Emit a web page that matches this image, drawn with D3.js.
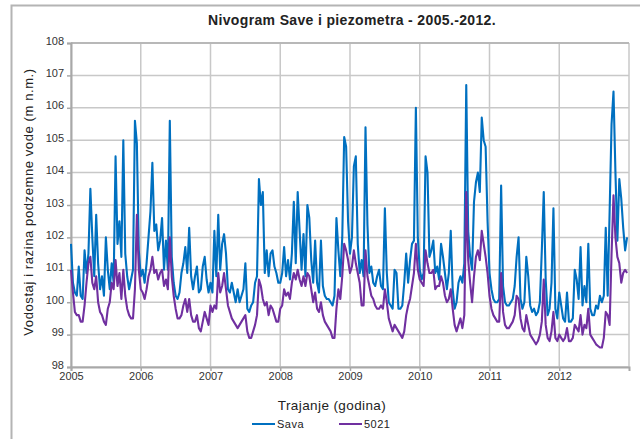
<!DOCTYPE html>
<html>
<head>
<meta charset="utf-8">
<script src="https://cdn.jsdelivr.net/npm/d3@7"></script>
<style>
  html, body { margin: 0; padding: 0; background: #fff; }
  svg { display: block; font-family: "Liberation Sans", Arial, sans-serif; }
</style>
</head>
<body>
<svg id="chart" width="640" height="439"></svg>
<script>
// ---- data (~10-day samples, 36 per year) ----
const years = [2005, 2006, 2007, 2008, 2009, 2010, 2011, 2012];
const samplesPerYear = 36;
const yTicks = [98, 99, 100, 101, 102, 103, 104, 105, 106, 107, 108];
const seriesNames = ["Sava", "5021"];

const sava = [
  // 2005
  101.8,100.6,100.3,100.2,101.1,100.2,100.1,101.6,100.9,101.5,103.5,102.0,100.8,102.7,101.2,100.4,100.8,100.2,
  102.0,101.0,100.4,101.2,100.6,104.5,101.8,102.5,101.4,105.0,101.5,100.8,100.4,100.7,101.0,105.6,104.9,101.6,
  // 2006
  100.8,101.0,100.6,101.2,102.0,102.8,104.3,102.2,102.4,101.6,101.9,102.6,101.0,101.9,101.0,105.6,101.4,100.6,
  100.2,100.1,100.3,100.9,101.2,101.7,100.9,102.3,100.8,100.4,100.8,101.1,100.3,100.4,101.1,101.4,100.7,100.3,
  // 2007
  100.6,100.3,102.2,100.8,102.7,101.0,101.8,102.1,101.5,100.4,100.3,100.6,100.3,100.0,100.4,100.0,100.2,100.4,
  101.2,99.8,99.7,99.9,100.0,100.6,100.8,103.8,103.0,103.4,100.9,101.6,100.8,101.5,101.6,101.1,100.9,100.6,
  // 2008
  100.6,100.9,101.7,100.8,101.3,100.7,101.5,103.1,101.2,103.4,102.2,101.0,102.1,100.8,103.0,102.6,101.3,100.6,
  101.9,100.6,100.3,101.9,100.5,100.2,100.1,100.1,100.0,99.9,100.2,102.6,101.6,100.8,102.0,105.1,104.8,102.5,
  // 2009
  101.5,102.0,104.2,104.5,101.8,100.9,101.3,100.8,105.4,102.4,100.9,101.1,100.6,100.5,100.8,101.0,100.5,100.4,
  102.9,100.9,100.0,99.9,99.8,101.0,100.9,99.8,99.8,99.9,100.6,101.5,100.6,101.3,101.8,101.9,106.0,102.0,
  // 2010
  101.0,100.7,100.9,104.5,104.0,101.4,101.6,101.9,100.9,101.1,100.7,101.8,101.4,100.9,100.4,100.9,102.2,100.4,
  99.8,100.0,100.6,100.8,100.6,101.2,106.7,102.2,101.4,101.0,103.1,103.7,104.0,103.4,105.7,105.0,104.8,102.5,
  // 2011
  100.9,100.4,100.1,100.0,100.0,100.1,103.6,100.5,100.0,99.9,99.9,100.0,100.1,100.5,101.4,102.0,100.1,99.8,
  100.0,101.4,100.8,99.9,99.7,99.8,99.6,99.7,100.0,101.6,103.4,100.7,99.6,99.8,100.6,102.9,99.8,99.5,
  // 2012
  100.3,99.9,99.5,99.4,100.3,99.4,99.4,99.5,101.0,100.7,100.1,101.7,99.9,100.5,100.0,101.8,99.8,99.6,
  99.6,99.9,99.8,100.2,100.0,100.2,102.3,100.2,102.8,105.5,106.5,104.0,101.9,103.8,103.2,102.3,101.6,102.0
];

const piezo5021 = [
  // 2005
  101.0,100.3,99.7,99.6,99.6,99.4,99.4,99.9,100.6,101.2,101.4,100.6,100.4,100.8,100.0,99.7,99.6,99.4,
  99.3,99.8,100.0,100.6,100.4,101.3,100.5,100.9,100.1,101.0,100.2,99.8,99.6,99.5,99.5,100.4,102.7,101.0,
  // 2006
  100.4,100.3,100.1,100.4,100.8,101.0,101.4,100.9,101.0,100.7,100.9,101.0,100.5,100.7,100.4,102.0,100.8,100.2,
  99.8,99.5,99.5,99.6,99.9,100.1,99.7,100.1,99.6,99.4,99.4,99.6,99.2,99.1,99.4,99.7,99.5,99.3,
  // 2007
  99.9,99.7,99.9,99.8,100.9,100.3,100.5,100.9,100.4,99.9,99.7,99.5,99.4,99.3,99.2,99.3,99.4,99.5,
  99.6,99.1,98.9,98.9,99.1,99.3,99.6,100.7,100.5,100.1,99.9,100.0,99.6,99.9,99.8,99.6,99.4,99.4,
  // 2008
  99.8,99.9,100.4,100.2,100.3,100.1,100.6,100.9,100.7,101.0,100.7,100.5,100.8,100.5,100.9,100.8,100.4,100.0,
  100.3,99.8,99.7,100.0,99.6,99.4,99.3,99.2,99.1,98.9,98.9,99.8,100.4,100.1,100.8,101.8,101.6,101.3,
  // 2009
  100.9,101.1,101.6,101.2,100.9,100.6,99.9,99.9,101.6,100.8,100.5,100.2,100.1,99.9,99.8,99.8,99.9,99.8,
  100.4,100.0,99.5,99.3,99.1,99.3,99.2,99.1,99.0,98.9,99.1,99.6,99.9,100.1,100.5,100.9,101.8,101.0,
  // 2010
  100.7,100.6,100.5,101.6,101.2,100.9,100.9,101.0,100.4,100.5,100.5,100.8,100.6,100.2,100.0,100.1,100.4,99.8,
  99.3,99.1,99.3,99.5,99.2,99.6,103.4,101.3,100.6,100.0,100.8,101.4,101.6,101.3,102.2,101.8,101.4,100.9,
  // 2011
  100.2,99.8,99.6,99.5,99.4,99.4,100.9,99.7,99.3,99.2,99.2,99.3,99.4,99.6,100.2,100.1,99.5,99.2,
  99.1,99.6,99.3,99.0,98.9,98.8,98.7,98.8,99.0,99.4,100.7,99.3,98.9,98.8,99.1,99.7,98.9,98.8,
  // 2012
  99.0,98.9,98.8,98.9,99.2,98.8,98.8,98.9,99.3,99.2,99.1,99.6,99.0,99.3,99.2,99.8,99.0,98.9,
  98.8,98.7,98.65,98.6,98.6,98.9,99.7,99.6,99.3,101.5,103.3,102.0,101.4,101.2,100.6,100.9,101.0,100.9
];

// ---- layout ----
const svg = d3.select("#chart");
const plot = { left: 71, right: 629, top: 43, bottom: 367 };

const x = d3.scaleLinear().domain([2005, 2013]).range([plot.left, plot.right]);
const y = d3.scaleLinear().domain([98, 108]).range([plot.bottom, plot.top]);

// outer frame (left and top visible)
svg.append("rect")
  .attr("x", 11.5).attr("y", 5.5)
  .attr("width", 700).attr("height", 500)
  .attr("fill", "none").attr("stroke", "#b4b4b4").attr("stroke-width", 2);

// title
svg.append("text")
  .attr("x", 352).attr("y", 25)
  .attr("text-anchor", "middle")
  .attr("font-size", 14).attr("font-weight", "bold")
  .attr("letter-spacing", 0.35)
  .attr("fill", "#222")
  .text("Nivogram Save i piezometra - 2005.-2012.");

// grid
const g = svg.append("g");
g.selectAll("line.hgrid").data(yTicks).join("line")
  .attr("class", "hgrid")
  .attr("x1", plot.left).attr("x2", plot.right)
  .attr("y1", d => y(d)).attr("y2", d => y(d))
  .attr("stroke", "#c8c8c8").attr("stroke-width", 1.5);
g.selectAll("line.vgrid").data(years.concat([2013])).join("line")
  .attr("class", "vgrid")
  .attr("x1", d => x(d)).attr("x2", d => x(d))
  .attr("y1", plot.top).attr("y2", plot.bottom)
  .attr("stroke", "#c8c8c8").attr("stroke-width", 1.5);
g.append("line")
  .attr("x1", plot.left).attr("x2", plot.right)
  .attr("y1", plot.top).attr("y2", plot.top)
  .attr("stroke", "#b8b8b8").attr("stroke-width", 2);

// axes
const yAxis = d3.axisLeft(y).tickValues(yTicks).tickSize(4).tickPadding(3).tickFormat(d3.format("d"));
const xAxis = d3.axisBottom(x).tickValues(years).tickSize(4).tickPadding(1).tickFormat(d3.format("d"));

const ya = svg.append("g").attr("transform", `translate(${plot.left},0)`).call(yAxis);
const xa = svg.append("g").attr("transform", `translate(0,${plot.bottom})`).call(xAxis);
[ya, xa].forEach(a => {
  a.select(".domain").attr("stroke", "#a8a8a8").attr("stroke-width", 2);
  a.selectAll(".tick line").attr("stroke", "#a8a8a8").attr("stroke-width", 1.5);
  a.selectAll(".tick text").attr("fill", "#333").attr("font-size", 11)
   .attr("font-family", "'Liberation Sans', Arial, sans-serif");
});
ya.selectAll(".tick text").attr("dy", "0.1em");

// lines
const line = d3.line()
  .x((d, i) => x(years[0] + i / samplesPerYear))
  .y(d => y(d));

svg.append("path").datum(sava)
  .attr("fill", "none").attr("stroke", "#0070c0")
  .attr("stroke-width", 2.1).attr("stroke-linejoin", "round")
  .attr("d", line);
svg.append("path").datum(piezo5021)
  .attr("fill", "none").attr("stroke", "#7030a0")
  .attr("stroke-width", 2.1).attr("stroke-linejoin", "round")
  .attr("d", line);

// axis titles
svg.append("text")
  .attr("transform", `translate(33,${(plot.top + plot.bottom) / 2 - 3}) rotate(-90)`)
  .attr("text-anchor", "middle")
  .attr("font-size", 13).attr("letter-spacing", 0.6).attr("fill", "#222")
  .text("Vodostaj i razina podzemne vode (m n.m.)");

svg.append("text")
  .attr("x", 332).attr("y", 410)
  .attr("text-anchor", "middle")
  .attr("font-size", 13.5).attr("letter-spacing", 0.4).attr("fill", "#222")
  .text("Trajanje (godina)");

// legend
const legend = svg.append("g");
const legendItems = [
  { name: seriesNames[0], color: "#0070c0", x: 252 },
  { name: seriesNames[1], color: "#7030a0", x: 339 }
];
legendItems.forEach(it => {
  legend.append("line")
    .attr("x1", it.x).attr("x2", it.x + 23)
    .attr("y1", 424).attr("y2", 424)
    .attr("stroke", it.color).attr("stroke-width", 2);
  legend.append("text")
    .attr("x", it.x + 25).attr("y", 428)
    .attr("font-size", 11).attr("letter-spacing", 0.5).attr("fill", "#222")
    .text(it.name);
});
</script>
</body>
</html>
